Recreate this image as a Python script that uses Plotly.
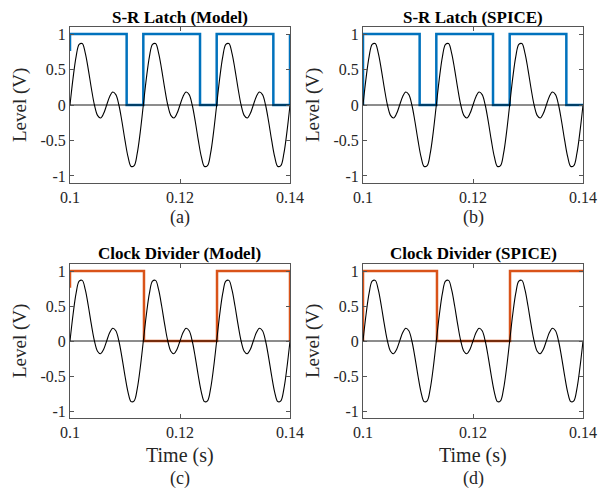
import numpy as np
import plotly.graph_objects as go

# ---- data ----
t_wave = list(np.linspace(0.1, 0.14, 73))
wave = [0, 0.379, 0.683, 0.854, 0.866, 0.733, 0.5, 0.233, 0, -0.146, -0.183, -0.121,
        0, 0.121, 0.183, 0.146, 0, -0.233, -0.5, -0.733, -0.866, -0.854, -0.683, -0.379,
        0, 0.379, 0.683, 0.854, 0.866, 0.733, 0.5, 0.233, 0, -0.146, -0.183, -0.121,
        0, 0.121, 0.183, 0.146, 0, -0.233, -0.5, -0.733, -0.866, -0.854, -0.683, -0.379,
        0, 0.379, 0.683, 0.854, 0.866, 0.733, 0.5, 0.233, 0, -0.146, -0.183, -0.121,
        0, 0.121, 0.183, 0.146, 0, -0.233, -0.5, -0.733, -0.866, -0.854, -0.683, -0.379,
        0]

sr_model_t = [0.1, 0.1, 0.1103, 0.1103, 0.11333, 0.11333, 0.12364, 0.12364,
              0.12667, 0.12667, 0.13697, 0.13697, 0.14, 0.14]
sr_model_y = [0.76, 1, 1, 0, 0, 1, 1, 0, 0, 1, 1, 0, 0, 1]
sr_spice_t = [0.1, 0.1, 0.1103, 0.1103, 0.11333, 0.11333, 0.12364, 0.12364,
              0.12667, 0.12667, 0.13697, 0.13697, 0.14]
sr_spice_y = [0, 1, 1, 0, 0, 1, 1, 0, 0, 1, 1, 0, 0]
cd_model_t = [0.1, 0.1, 0.11345, 0.11345, 0.12673, 0.12673, 0.14, 0.14]
cd_model_y = [0.76, 1, 1, 0, 0, 1, 1, 0]
cd_spice_t = [0.1, 0.1, 0.11345, 0.11345, 0.12673, 0.12673, 0.14]
cd_spice_y = [0, 1, 1, 0, 0, 1, 1]

titles = ["S-R Latch (Model)", "S-R Latch (SPICE)", "Clock Divider (Model)", "Clock Divider (SPICE)"]
captions = ["(a)", "(b)", "(c)", "(d)"]
x_ticks = [0.1, 0.12, 0.14]
x_labels = ["0.1", "0.12", "0.14"]
y_ticks = [-1, -0.5, 0, 0.5, 1]
y_labels = ["-1", "-0.5", "0", "0.5", "1"]

BLUE = "#0072BD"
ORANGE = "#D95319"
FONT = "Liberation Serif"
OFF = 8                      # page body margin
W, H = 606 - OFF, 491 - OFF  # figure size so the page fits the window


def px(x):
    return (x - OFF) / W


def py(y):
    return 1 - (y - OFF) / H


# panel pixel boxes in page coordinates (left, right, top, bottom)
boxes = [(70, 290, 27, 183), (363, 583, 27, 183), (70, 290, 264, 418), (363, 583, 264, 418)]
squares = [(sr_model_t, sr_model_y, BLUE), (sr_spice_t, sr_spice_y, BLUE),
           (cd_model_t, cd_model_y, ORANGE), (cd_spice_t, cd_spice_y, ORANGE)]

fig = go.Figure()
annotations = []
layout = {}
for i, ((l, r, tp, bt), (st, sy, col)) in enumerate(zip(boxes, squares)):
    n = "" if i == 0 else str(i + 1)
    xa, ya = "x" + n, "y" + n
    fig.add_trace(go.Scatter(x=st, y=sy, mode="lines", line=dict(color=col, width=2.5),
                             xaxis=xa, yaxis=ya, showlegend=False, hoverinfo="skip"))
    fig.add_trace(go.Scatter(x=t_wave, y=wave, mode="lines", line=dict(color="black", width=1.1, shape="spline"),
                             xaxis=xa, yaxis=ya, showlegend=False, hoverinfo="skip"))
    fig.add_trace(go.Scatter(x=[0.1, 0.14], y=[0, 0], mode="lines", line=dict(color="black", width=0.9),
                             xaxis=xa, yaxis=ya, showlegend=False, hoverinfo="skip"))
    common = dict(showgrid=False, zeroline=False, showline=True, linecolor="#555555", linewidth=1,
                  mirror="ticks", ticks="inside", ticklen=4, tickcolor="#555555", automargin=False,
                  tickfont=dict(family=FONT, size=16, color="#262626"))
    layout["xaxis" + n] = dict(common, domain=[px(l), px(r)], range=[0.1, 0.14], anchor=ya,
                               tickvals=x_ticks, ticktext=x_labels)
    layout["yaxis" + n] = dict(common, domain=[py(bt), py(tp)], range=[-1.1, 1.1], anchor=xa,
                               tickvals=y_ticks, ticktext=y_labels)
    cx = px((l + r) / 2)
    base = dict(xref="paper", yref="paper", showarrow=False, xanchor="center", yanchor="middle")
    annotations.append(dict(base, text="<b>" + titles[i] + "</b>", x=cx, y=py(tp - 10),
                            font=dict(family=FONT, size=17, color="black")))
    annotations.append(dict(base, text="Level (V)", x=px(l - 50), y=py((tp + bt) / 2), textangle=-90,
                            font=dict(family=FONT, size=19, color="#262626")))
    if i >= 2:
        annotations.append(dict(base, text="Time (s)", x=cx, y=py(bt + 37),
                                font=dict(family=FONT, size=20, color="#262626")))
        cap_y = bt + 60
    else:
        cap_y = bt + 35
    annotations.append(dict(base, text=captions[i], x=cx, y=py(cap_y),
                            font=dict(family=FONT, size=18, color="#262626")))

fig.update_layout(width=W, height=H, margin=dict(l=0, r=0, t=0, b=0),
                  paper_bgcolor="white", plot_bgcolor="white", annotations=annotations, **layout)
fig.write_html("out.html")
